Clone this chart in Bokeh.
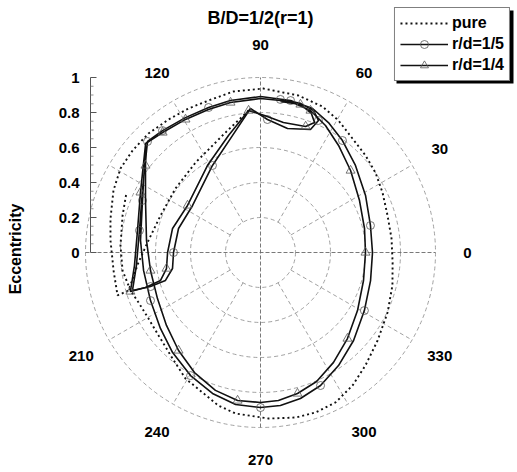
import numpy as np
from bokeh.plotting import figure
from bokeh.models import Label, Legend, LegendItem, Range1d, BoxAnnotation
from bokeh.embed import file_html
from bokeh.resources import INLINE
from bokeh.core.properties import value

# ---------------- data ----------------
title_text = "B/D=1/2(r=1)"
axis_title = "Eccentricity"
series_names = ["pure", "r/d=1/5", "r/d=1/4"]

radial_ticks = [0, 0.2, 0.4, 0.6, 0.8, 1.0]
radial_tick_labels = ["0", "0.2", "0.4", "0.6", "0.8", "1"]
radial_minor_ticks = [0.05, 0.1, 0.15, 0.25, 0.3, 0.35, 0.45, 0.5, 0.55,
                      0.65, 0.7, 0.75, 0.85, 0.9, 0.95]
grid_radii = [0.2, 0.4, 0.6, 0.8, 1.0]
spoke_angles = [30, 60, 120, 150, 210, 240, 300, 330]
diameter_angles = [0, 90]
angle_label_values = [0, 30, 60, 90, 120, 210, 240, 270, 300, 330]
angle_label_texts = ["0", "30", "60", "90", "120", "210", "240", "270", "300", "330"]

# pure (dotted) orbit: angle [deg], eccentricity
pure_theta = [94.8, 106.3, 125.8, 143.0, 159.7, 173.9, 184.7, 196.1,
              196.7, 187.0, 175.4, 167.2, 157.1, 149.0, 141.4, 133.3, 124.7, 116.6,
              108.9, 99.5, 89.0, 76.4, 67.0, 59.4, 51.1, 42.7, 34.8, 26.2, 16.2, 6.1,
              355.7, 346.0, 334.7, 323.1, 312.9, 304.7, 296.6, 289.0, 282.0, 272.8,
              261.2, 254.6, 247.5, 239.2, 230.3, 219.1, 210.5, 202.3, 196.3,
              187.4, 177.1, 165.0, 155.9]
pure_ecc = [0.814, 0.714, 0.634, 0.608, 0.609, 0.644, 0.700, 0.785,
            0.853, 0.846, 0.860, 0.879, 0.912, 0.933, 0.935, 0.934, 0.924, 0.920,
            0.918, 0.933, 0.937, 0.923, 0.906, 0.876, 0.837, 0.817, 0.800, 0.777, 0.756, 0.753,
            0.757, 0.777, 0.803, 0.837, 0.881, 0.924, 0.958, 0.967, 0.964, 0.950,
            0.931, 0.907, 0.866, 0.838, 0.787, 0.751, 0.743, 0.753, 0.774,
            0.795, 0.801, 0.816, 0.839]

# r/d = 1/5 (circles)
rd15_theta = [82.6, 75.0, 69.5, 66.3, 67.9, 77.7, 87.0, 94.0,
              103.5, 118.9, 145.3, 163.7, 180.0, 190.3, 196.4, 197.2, 196.5,
              186.0, 169.7, 152.3, 141.3, 135.5,
              128.8, 119.1, 109.7, 101.2, 90.0, 78.8, 70.1, 62.4, 53.8, 42.5, 28.5, 13.8,
              0.0, 345.7, 330.8, 316.6, 304.6, 294.3, 285.3, 277.4, 270.0, 260.7, 251.2,
              240.4, 228.7, 217.2, 203.6, 188.7, 174.3, 156.2, 143.1,
              135.5, 128.8, 119.1]
rd15_ecc = [0.882, 0.882, 0.866, 0.824, 0.759, 0.725, 0.761, 0.825,
            0.687, 0.568, 0.472, 0.488, 0.497, 0.511, 0.566, 0.658, 0.763,
            0.713, 0.703, 0.762, 0.842, 0.905,
            0.894, 0.882, 0.880, 0.885, 0.891, 0.885, 0.875, 0.838, 0.793, 0.736, 0.683, 0.647,
            0.640, 0.649, 0.680, 0.732, 0.785, 0.834, 0.865, 0.882, 0.886, 0.880, 0.851,
            0.809, 0.761, 0.718, 0.686, 0.676, 0.689, 0.737, 0.829,
            0.905, 0.894, 0.882]

# r/d = 1/4 (triangles)
rd14_theta = [82.5, 74.9, 69.9, 67.4, 70.3, 80.0, 88.3, 94.8,
              105.3, 121.4, 147.2, 164.7, 180.0, 189.7, 195.6, 196.9, 196.7,
              185.9, 169.9, 153.4, 142.4, 136.5,
              129.2, 119.4, 110.0, 101.3, 90.0, 78.8, 70.6, 62.9, 53.9, 42.3, 27.7, 13.0,
              0.0, 344.8, 329.1, 315.3, 303.6, 293.5, 284.7, 276.9, 270.0, 261.2, 251.9,
              241.2, 230.1, 217.8, 204.1, 189.3, 174.0, 155.7, 142.9,
              136.5, 129.2, 119.4]
rd14_ecc = [0.870, 0.876, 0.846, 0.804, 0.765, 0.754, 0.783, 0.814,
            0.693, 0.582, 0.496, 0.521, 0.531, 0.545, 0.593, 0.687, 0.776,
            0.724, 0.714, 0.767, 0.843, 0.905,
            0.885, 0.873, 0.870, 0.874, 0.880, 0.880, 0.860, 0.815, 0.757, 0.696, 0.639, 0.610,
            0.600, 0.610, 0.646, 0.699, 0.754, 0.804, 0.833, 0.852, 0.857, 0.856, 0.829,
            0.783, 0.730, 0.680, 0.645, 0.637, 0.655, 0.721, 0.824,
            0.905, 0.885, 0.873]


def polar_xy(theta_deg, r):
    t = np.radians(np.asarray(theta_deg, dtype=float))
    r = np.asarray(r, dtype=float)
    return r * np.cos(t), r * np.sin(t)


# ---------------- layout ----------------
W, H = 517, 472
SCALE = 175.0          # px per unit of eccentricity
CX, CY = 260, 252      # canvas position of the pole
FONT = "Liberation Sans"
LABEL_R = 1.183
AXIS_X = (90 - CX) / SCALE        # radial axis drawn left of the polar grid
MAJ_LEN, MIN_LEN = 6 / SCALE, 3 / SCALE
TICK_LABEL_X = AXIS_X - 11 / SCALE
AXIS_TITLE_X = (15 - CX) / SCALE


def sx(px):
    return (px - CX) / SCALE


def sy(py):
    return (CY - py) / SCALE


p = figure(width=W, height=H, output_backend="svg", toolbar_location=None,
           x_range=Range1d(-CX / SCALE, (W - CX) / SCALE),
           y_range=Range1d(-(H - CY) / SCALE, CY / SCALE),
           x_axis_location=None, y_axis_location=None,
           min_border_left=0, min_border_right=0, min_border_top=0,
           min_border_bottom=0, outline_line_color=None)
p.xgrid.visible = False
p.ygrid.visible = False

# polar grid
n = len(grid_radii)
p.circle(x=[0] * n, y=[0] * n, radius=grid_radii, fill_color=None,
         line_color="#8a8a8a", line_width=0.8, line_dash="4 3")
sx0, sy0 = polar_xy(spoke_angles, [grid_radii[0]] * len(spoke_angles))
sx1, sy1 = polar_xy(spoke_angles, [grid_radii[-1]] * len(spoke_angles))
p.segment(x0=sx0, y0=sy0, x1=sx1, y1=sy1, line_color="#8a8a8a",
          line_width=0.8, line_dash="4 3")
dx0, dy0 = polar_xy([a + 180 for a in diameter_angles], [grid_radii[-1]] * 2)
dx1, dy1 = polar_xy(diameter_angles, [grid_radii[-1]] * 2)
p.segment(x0=dx0, y0=dy0, x1=dx1, y1=dy1, line_color="#6a6a6a",
          line_width=0.9, line_dash="4 2")

# radial (eccentricity) axis at the left
p.segment(x0=[AXIS_X], y0=[radial_ticks[0]], x1=[AXIS_X], y1=[radial_ticks[-1]],
          line_color="#555555", line_width=1)
p.segment(x0=[AXIS_X] * len(radial_ticks), y0=radial_ticks,
          x1=[AXIS_X + MAJ_LEN] * len(radial_ticks), y1=radial_ticks,
          line_color="#555555", line_width=1)
p.segment(x0=[AXIS_X] * len(radial_minor_ticks), y0=radial_minor_ticks,
          x1=[AXIS_X + MIN_LEN] * len(radial_minor_ticks), y1=radial_minor_ticks,
          line_color="#777777", line_width=0.8)
p.text(x=[TICK_LABEL_X] * len(radial_ticks), y=radial_ticks, text=radial_tick_labels,
       text_align="right", text_baseline="middle", text_font=value(FONT),
       text_font_style="bold", text_font_size="15px", text_color="black")
p.text(x=[AXIS_TITLE_X], y=[0.02], text=[axis_title], angle=np.pi / 2,
       text_align="center", text_baseline="middle", text_font=value(FONT),
       text_font_style="bold", text_font_size="16px", text_color="black")

# series
px_, py_ = polar_xy(pure_theta, pure_ecc)
r_pure = p.line(px_, py_, line_color="#111111", line_width=1.9, line_dash="2 3")

ax_, ay_ = polar_xy(rd15_theta, rd15_ecc)
r_a = p.line(ax_, ay_, line_color="#111111", line_width=1.6)
m_a = p.scatter(ax_[::3], ay_[::3], marker="circle", size=8, fill_color=None,
                line_color="#555555", line_width=0.8)

bx_, by_ = polar_xy(rd14_theta, rd14_ecc)
r_b = p.line(bx_, by_, line_color="#111111", line_width=1.6)
m_b = p.scatter(bx_[1::3], by_[1::3], marker="triangle", size=9, fill_color=None,
                line_color="#555555", line_width=0.8)

# angle labels
lx, ly = polar_xy(angle_label_values, [LABEL_R] * len(angle_label_values))
p.text(x=lx, y=ly, text=angle_label_texts, text_align="center",
       text_baseline="middle", text_font=value(FONT), text_font_style="bold",
       text_font_size="15px", text_color="black")

# title
p.add_layout(Label(x=0, y=sy(17), text=title_text,
                   text_align="center", text_baseline="middle", text_font=FONT,
                   text_font_style="bold", text_font_size="18px",
                   text_color="black"))

# legend drop shadow (offset 3 px right/down of the legend box)
p.add_layout(BoxAnnotation(left=sx(396), right=sx(513), top=sy(10), bottom=sy(83),
                           fill_color="black", fill_alpha=1.0, line_color=None))

legend = Legend(items=[LegendItem(label=series_names[0], renderers=[r_pure]),
                       LegendItem(label=series_names[1], renderers=[r_a, m_a]),
                       LegendItem(label=series_names[2], renderers=[r_b, m_b])],
                location="top_right", margin=7, padding=5, spacing=1,
                glyph_width=48, glyph_height=20, label_standoff=4,
                border_line_color="black", border_line_width=1.5,
                background_fill_color="white", background_fill_alpha=1.0,
                label_text_font=FONT, label_text_font_style="bold",
                label_text_font_size="16px", label_text_color="black")
p.add_layout(legend)

open("out.html", "w").write(file_html(p, INLINE))
